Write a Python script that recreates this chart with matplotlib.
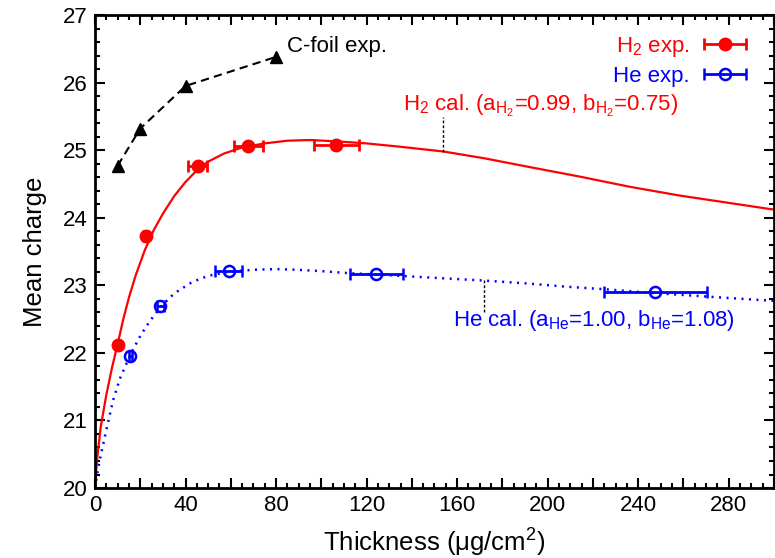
import matplotlib
matplotlib.use("Agg")
import matplotlib.pyplot as plt
from matplotlib.ticker import MultipleLocator, FuncFormatter
from matplotlib.legend_handler import HandlerErrorbar
from matplotlib.container import ErrorbarContainer

plt.rcParams['font.family'] = ['Liberation Sans', 'DejaVu Sans']
plt.rcParams['mathtext.fontset'] = 'custom'
plt.rcParams['mathtext.rm'] = 'Liberation Sans'
plt.rcParams['mathtext.it'] = 'Liberation Sans:italic'
plt.rcParams['mathtext.default'] = 'regular'

# C-foil experiment
cfoil_x = [10, 20, 40, 80]
cfoil_y = [24.77, 25.32, 25.95, 26.38]

# H2 experiment
h2_x = [10.1, 22.4, 45.3, 67.8, 106.7]
h2_y = [22.12, 23.73, 24.76, 25.06, 25.07]
h2_xerr = [0.8, 1.2, 4.4, 6.5, 10.0]

# He experiment
he_x = [15.6, 28.9, 59.0, 124.3, 247.5]
he_y = [21.96, 22.69, 23.21, 23.16, 22.90]
he_xerr = [0.8, 1.5, 5.9, 11.8, 22.8]

# calculated curves
h2_cal_x = [0, 0.3, 1, 2.5, 5, 7.5, 10, 12.5, 15, 18, 22, 26, 30, 35, 40, 45, 50,
            57, 65, 75, 85, 95, 107, 120, 135, 154, 172, 192, 214, 236, 258, 280, 300]
h2_cal_y = [20.0, 20.17, 20.45, 20.9, 21.38, 21.78, 22.13, 22.5, 22.82, 23.15, 23.52,
            23.82, 24.06, 24.32, 24.53, 24.7, 24.83, 24.95, 25.04, 25.1, 25.14, 25.15,
            25.13, 25.1, 25.05, 24.98, 24.88, 24.75, 24.61, 24.46, 24.33, 24.22, 24.12]

he_cal_x = [0, 0.5, 2, 5, 8, 11, 15.7, 20, 24, 29, 35, 43, 50, 59, 70, 80, 89, 100,
            112, 124, 140, 156, 172, 190, 208, 226, 245, 263, 281, 300]
he_cal_y = [20.0, 20.12, 20.4, 20.86, 21.3, 21.62, 21.98, 22.25, 22.46, 22.68, 22.88,
            23.05, 23.14, 23.2, 23.23, 23.24, 23.23, 23.21, 23.18, 23.16, 23.13, 23.1,
            23.07, 23.03, 22.98, 22.94, 22.89, 22.85, 22.81, 22.77]

fig = plt.figure(figsize=(7.75, 5.58), dpi=100)
ax = fig.add_axes([0.1226, 0.1254, 0.876, 0.8477])

ax.plot(cfoil_x, cfoil_y, color='black', ls=(0, (4, 2.5)), lw=1.5,
        marker='^', ms=8, zorder=3)

ax.plot(h2_cal_x, h2_cal_y, color='red', lw=1.6, zorder=2)
ax.plot(he_cal_x, he_cal_y, color='blue', lw=1.8, ls=(0, (0.8, 2.2)), zorder=2)

h2 = ax.errorbar(h2_x, h2_y, xerr=h2_xerr, fmt='o', color='red', ms=9,
                 elinewidth=2, capsize=4, capthick=2, label=r'H$_2$ exp.', zorder=4)
he = ax.errorbar(he_x, he_y, xerr=he_xerr, fmt='o', color='blue', mfc='none',
                 mec='blue', mew=1.8, ms=8, elinewidth=2, capsize=4, capthick=2,
                 label='He exp.', zorder=4)

# labels
ax.text(85, 26.54, 'C-foil exp.', fontsize=16, ha='left', va='center')
ax.text(136, 25.65, r'H$_2$ cal. (a$_{H_2}$=0.99, b$_{H_2}$=0.75)', color='red',
        fontsize=16, ha='left', va='center')
ax.plot([153.6, 153.6], [24.98, 25.49], color='black', ls=(0, (2, 1.5)), lw=1)
ax.text(158, 22.48, r'He cal. (a$_{He}$=1.00, b$_{He}$=1.08)', color='blue',
        fontsize=16, ha='left', va='center')
ax.plot([172, 172], [23.08, 22.6], color='black', ls=(0, (2, 1.5)), lw=1)

leg = ax.legend(handles=[h2, he], loc='upper right', bbox_to_anchor=(1.0, 1.0),
                frameon=False, markerfirst=False, fontsize=16, handlelength=2.6,
                handletextpad=0.3, labelspacing=0.3,
                handler_map={ErrorbarContainer: HandlerErrorbar(xerr_size=0.95)})
for t, c in zip(leg.get_texts(), ['red', 'blue']):
    t.set_color(c)

ax.set_xlim(0, 300)
ax.set_ylim(20, 27)
ax.xaxis.set_major_locator(MultipleLocator(20))
ax.xaxis.set_minor_locator(MultipleLocator(5))
ax.xaxis.set_major_formatter(FuncFormatter(lambda v, p: f'{int(v)}' if v % 40 == 0 else ''))
ax.yaxis.set_major_locator(MultipleLocator(1))
ax.yaxis.set_minor_locator(MultipleLocator(0.2))
ax.tick_params(which='both', direction='in', top=True, right=True, labelsize=16, width=1.5)
ax.tick_params(which='major', length=7, pad=5)
ax.tick_params(which='minor', length=3.5)
for s in ax.spines.values():
    s.set_linewidth(2)

ax.set_xlabel(r'Thickness ($\mu$g/cm$^2$)', fontsize=18.5, labelpad=8)
ax.set_ylabel('Mean charge', fontsize=18.5, labelpad=12)

plt.savefig('out.png', dpi=100)
